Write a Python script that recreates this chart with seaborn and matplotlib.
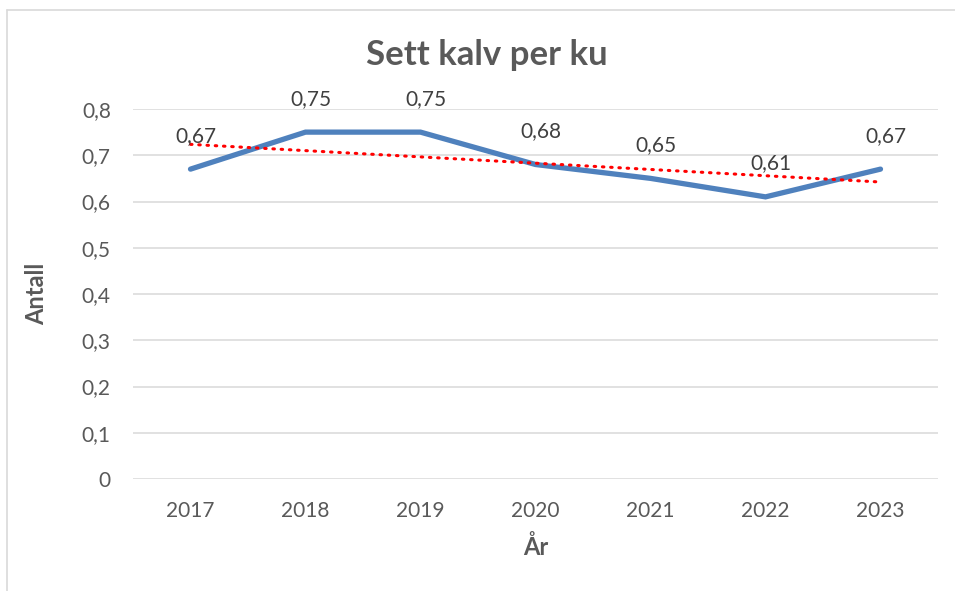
import pandas as pd
import matplotlib.pyplot as plt
import seaborn as sns
from matplotlib.lines import Line2D

years = [2017, 2018, 2019, 2020, 2021, 2022, 2023]
kalv_per_ku = [0.67, 0.75, 0.75, 0.68, 0.65, 0.61, 0.67]
y_ticks = [0, 0.1, 0.2, 0.3, 0.4, 0.5, 0.6, 0.7, 0.8]

df = pd.DataFrame({'År': years, 'Antall': kalv_per_ku})

sns.set_theme(style="white")
plt.rcParams['font.family'] = ['Lato', 'DejaVu Sans']
grey = '#595959'

fig = plt.figure(figsize=(9.55, 5.91), dpi=100)
ax = fig.add_axes([133 / 955, 1 - 479 / 591, (938 - 133) / 955, (479 - 109) / 591])

# faint frame around the chart (cut at right and bottom like the original)
fig.add_artist(Line2D([7 / 955, 7 / 955], [0, 1 - 10 / 591], transform=fig.transFigure,
                      color='#D9D9D9', lw=1.2))
fig.add_artist(Line2D([7 / 955, 1], [1 - 10 / 591, 1 - 10 / 591], transform=fig.transFigure,
                      color='#D9D9D9', lw=1.2))

for t in y_ticks:
    ax.axhline(t, color='#D9D9D9', lw=1.1, zorder=0)

sns.lineplot(data=df, x='År', y='Antall', ax=ax, color='#4F81BD', lw=3.8,
             solid_capstyle='round', solid_joinstyle='miter', zorder=3)
sns.regplot(data=df, x='År', y='Antall', ax=ax, scatter=False, ci=None,
            line_kws=dict(color='red', lw=2.2, ls=(0, (0.5, 2.2)),
                          dash_capstyle='round', zorder=4))

for x, y in zip(years, kalv_per_ku):
    ax.annotate(f'{y:.2f}'.replace('.', ','), (x, y), xytext=(4, 24),
                textcoords='offset points', ha='center', va='center',
                fontsize=15, color='#404040', zorder=5)

ax.set_xlim(years[0] - 0.5, years[-1] + 0.5)
ax.set_ylim(0, 0.8)
ax.set_xticks(years)
ax.set_xticklabels([str(y) for y in years])
ax.set_yticks(y_ticks)
ax.set_yticklabels([f'{t:g}'.replace('.', ',') for t in y_ticks])
ax.tick_params(axis='both', length=0, labelsize=15, colors=grey)
ax.tick_params(axis='x', pad=16)
ax.tick_params(axis='y', pad=16)
for s in ax.spines.values():
    s.set_visible(False)

ax.set_xlabel('År', fontsize=17, fontweight='bold', color=grey, labelpad=10)
ax.set_ylabel('Antall', fontsize=17, fontweight='bold', color=grey, labelpad=24)
fig.text(487 / 955, 1 - 55 / 591, 'Sett kalv per ku', ha='center', va='center',
         fontsize=25, fontweight='bold', color=grey)

fig.savefig('out.png', dpi=100, facecolor='white')
